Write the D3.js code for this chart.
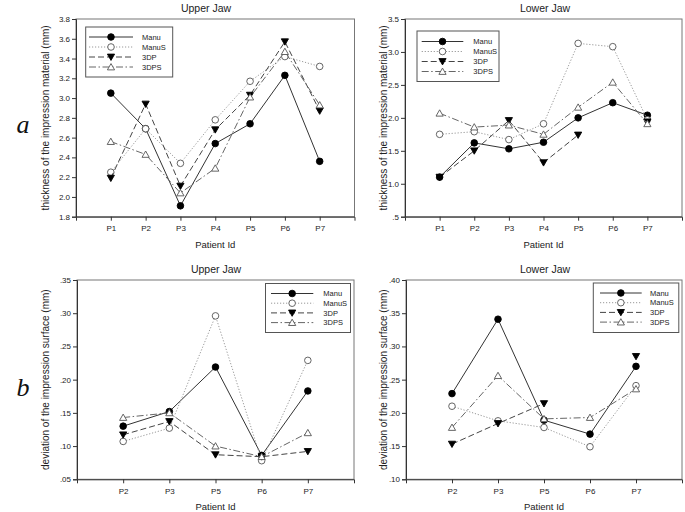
<!DOCTYPE html>
<html><head><meta charset="utf-8">
<script src="https://cdn.jsdelivr.net/npm/d3@7"></script>
<style>
html,body{margin:0;padding:0;background:#fff;}
svg{display:block;font-family:"Liberation Sans",Arial,sans-serif;}
</style></head>
<body><svg id="c" width="685" height="512"></svg>
<script>
// ---- data ----
const seriesNames = ["Manu", "ManuS", "3DP", "3DPS"];
const thickPatients = ["P1","P2","P3","P4","P5","P6","P7"];
const devPatients = ["P2","P3","P5","P6","P7"];

const upperThickManu  = [3.05, 2.69, 1.91, 2.54, 2.74, 3.23, 2.36];
const upperThickManuS = [2.25, 2.69, 2.34, 2.78, 3.17, 3.42, 3.32];
const upperThick3DP   = [2.19, 2.94, 2.11, 2.68, 3.03, 3.57, 2.87];
const upperThick3DPS  = [2.56, 2.43, 2.04, 2.29, 3.01, 3.47, 2.93];

const lowerThickManu  = [1.10, 1.62, 1.53, 1.63, 2.00, 2.23, 2.04];
const lowerThickManuS = [1.75, 1.79, 1.67, 1.91, 3.13, 3.08, 1.97];
const lowerThick3DP   = [1.10, 1.50, 1.96, 1.32, 1.74, null, 1.94];
const lowerThick3DPS  = [2.07, 1.86, 1.89, 1.75, 2.16, 2.54, 1.91];

const upperDevManu  = [0.130, 0.152, 0.219, 0.086, 0.183];
const upperDevManuS = [0.107, 0.127, 0.296, 0.078, 0.229];
const upperDev3DP   = [0.117, 0.137, 0.087, 0.084, 0.092];
const upperDev3DPS  = [0.143, 0.150, 0.100, 0.084, 0.120];

const lowerDevManu  = [0.229, 0.341, 0.189, 0.168, 0.270];
const lowerDevManuS = [0.210, 0.188, 0.178, 0.149, 0.241];
const lowerDev3DP   = [0.153, 0.184, 0.214, null, 0.285];
const lowerDev3DPS  = [0.178, 0.256, 0.191, 0.193, 0.236];

const upperThickTicks = [1.8,2.0,2.2,2.4,2.6,2.8,3.0,3.2,3.4,3.6,3.8];
const lowerThickTicks = [0.5,1.0,1.5,2.0,2.5,3.0,3.5];
const upperDevTicks = [0.05,0.10,0.15,0.20,0.25,0.30,0.35];
const lowerDevTicks = [0.10,0.15,0.20,0.25,0.30,0.35,0.40];

const yTitleThick = "thickness of the impression material (mm)";
const yTitleDev = "deviation of the impression surface (mm)";
const xTitle = "Patient Id";

// ---- styles ----
const styles = {
  "Manu":  {stroke:"#333", dash:null, marker:"circle", fill:"#000", mstroke:"#000"},
  "ManuS": {stroke:"#999", dash:"1.2,1.8", marker:"circle", fill:"#fff", mstroke:"#555"},
  "3DP":   {stroke:"#444", dash:"6,3", marker:"tdown", fill:"#000", mstroke:"#000"},
  "3DPS":  {stroke:"#666", dash:"7,2.5,1.5,2.5", marker:"tup", fill:"#fff", mstroke:"#555"}
};

const svg = d3.select("#c");

function stripZero(s){ return s.replace(/^0\./, "."); }

function panel(cfg){
  const g = svg.append("g");
  const x = d3.scaleLinear().domain([0, cfg.cats.length + 1]).range([cfg.x0, cfg.x1]);
  const y = d3.scaleLinear().domain(cfg.yDomain).range([cfg.y1, cfg.y0]);

  // frame
  g.append("rect").attr("x", cfg.x0).attr("y", cfg.y0)
    .attr("width", cfg.x1 - cfg.x0).attr("height", cfg.y1 - cfg.y0)
    .attr("fill", "none").attr("stroke", "#777").attr("stroke-width", 1);

  // axes
  const ya = d3.axisLeft(y).tickValues(cfg.yTicks).tickSize(4).tickPadding(2)
    .tickFormat(d => stripZero(d3.format(cfg.yFmt)(d)));
  const yg = g.append("g").attr("transform", `translate(${cfg.x0},0)`).call(ya);
  const xa = d3.axisBottom(x).tickValues(d3.range(1, cfg.cats.length + 1)).tickSize(4).tickPadding(5)
    .tickFormat(i => cfg.cats[i - 1]);
  const xg = g.append("g").attr("transform", `translate(0,${cfg.y1})`).call(xa);
  [yg, xg].forEach(a => {
    a.select(".domain").attr("stroke", "#333");
    a.selectAll(".tick line").attr("stroke", "#333");
    a.selectAll("text").attr("font-size", 8).attr("fill", "#222")
      .attr("font-family", '"Liberation Sans",Arial,sans-serif');
  });

  // titles
  g.append("text").attr("x", cfg.titleX).attr("y", cfg.y0 - 7).attr("text-anchor", "middle")
    .attr("font-size", 10.5).attr("fill", "#222").text(cfg.title);
  g.append("text").attr("x", (cfg.x0 + cfg.x1) / 2).attr("y", cfg.y1 + 31).attr("text-anchor", "middle")
    .attr("font-size", 9.5).attr("fill", "#222").text(xTitle);
  g.append("text").attr("transform", `translate(${cfg.yLabX},${(cfg.y0 + cfg.y1) / 2}) rotate(-90)`)
    .attr("text-anchor", "middle").attr("font-size", 10).attr("fill", "#222").text(cfg.yTitle);

  // series
  seriesNames.forEach((name, k) => {
    const vals = cfg.series[k];
    const st = styles[name];
    const line = d3.line().defined(d => d != null).x((d, i) => x(i + 1)).y(d => y(d));
    g.append("path").attr("d", line(vals)).attr("fill", "none")
      .attr("stroke", st.stroke).attr("stroke-width", 1)
      .attr("stroke-dasharray", st.dash);
    vals.forEach((v, i) => {
      if (v == null) return;
      drawMarker(g, st, x(i + 1), y(v));
    });
  });

  // legend
  const L = cfg.legend;
  g.append("rect").attr("x", L.x).attr("y", L.y).attr("width", L.w).attr("height", L.h)
    .attr("fill", "#fff").attr("stroke", "#555").attr("stroke-width", 1);
  seriesNames.forEach((name, k) => {
    const st = styles[name];
    const yy = L.y + L.r0 + k * L.dy;
    g.append("line").attr("x1", L.lx0).attr("x2", L.lx1).attr("y1", yy).attr("y2", yy)
      .attr("stroke", st.stroke).attr("stroke-width", 1).attr("stroke-dasharray", st.dash);
    drawMarker(g, st, (L.lx0 + L.lx1) / 2, yy);
    g.append("text").attr("x", L.tx).attr("y", yy + 2.7).attr("font-size", 7.5)
      .attr("fill", "#222").text(name);
  });
}

function drawMarker(g, st, cx, cy){
  if (st.marker === "circle") {
    g.append("circle").attr("cx", cx).attr("cy", cy).attr("r", 3.3)
      .attr("fill", st.fill).attr("stroke", st.mstroke).attr("stroke-width", 0.9);
  } else {
    const s = 3.6;
    const pts = st.marker === "tdown"
      ? [[cx - s, cy - s * 0.8], [cx + s, cy - s * 0.8], [cx, cy + s * 0.95]]
      : [[cx - s, cy + s * 0.8], [cx + s, cy + s * 0.8], [cx, cy - s * 0.95]];
    g.append("path").attr("d", "M" + pts.map(p => p.join(",")).join("L") + "Z")
      .attr("fill", st.fill).attr("stroke", st.mstroke).attr("stroke-width", 0.9);
  }
}

panel({cats: thickPatients, x0: 76, x1: 354.5, y0: 19, y1: 216.7, yDomain: [1.8, 3.8],
  yTicks: upperThickTicks, yFmt: ".1f", title: "Upper Jaw", titleX: 206, yTitle: yTitleThick, yLabX: 49,
  series: [upperThickManu, upperThickManuS, upperThick3DP, upperThick3DPS],
  legend: {x: 85.7, y: 27, w: 87, h: 50, r0: 10, dy: 10, lx0: 89, lx1: 133, tx: 142}});

panel({cats: thickPatients, x0: 405, x1: 682, y0: 19, y1: 216.7, yDomain: [0.5, 3.5],
  yTicks: lowerThickTicks, yFmt: ".1f", title: "Lower Jaw", titleX: 545, yTitle: yTitleThick, yLabX: 387,
  series: [lowerThickManu, lowerThickManuS, lowerThick3DP, lowerThick3DPS],
  legend: {x: 417, y: 31, w: 82, h: 50.5, r0: 10.5, dy: 10, lx0: 421.7, lx1: 463.3, tx: 473.3}});

panel({cats: devPatients, x0: 77, x1: 354, y0: 280, y1: 479.3, yDomain: [0.05, 0.35],
  yTicks: upperDevTicks, yFmt: ".2f", title: "Upper Jaw", titleX: 216, yTitle: yTitleDev, yLabX: 49,
  series: [upperDevManu, upperDevManuS, upperDev3DP, upperDev3DPS],
  legend: {x: 265.5, y: 283.5, w: 85, h: 49, r0: 10, dy: 9.7, lx0: 271, lx1: 313.3, tx: 323.3}});

panel({cats: devPatients, x0: 406, x1: 682, y0: 280, y1: 479.3, yDomain: [0.10, 0.40],
  yTicks: lowerDevTicks, yFmt: ".2f", title: "Lower Jaw", titleX: 545, yTitle: yTitleDev, yLabX: 387,
  series: [lowerDevManu, lowerDevManuS, lowerDev3DP, lowerDev3DPS],
  legend: {x: 593.3, y: 283, w: 85.5, h: 49.5, r0: 10, dy: 9.7, lx0: 600, lx1: 641.7, tx: 650}});

// panel letters
svg.append("text").attr("x", 23).attr("y", 133).attr("text-anchor", "middle")
  .attr("font-family", '"Liberation Serif","DejaVu Serif",serif').attr("font-style", "italic")
  .attr("font-size", 26).attr("fill", "#111").text("a");
svg.append("text").attr("x", 23).attr("y", 396).attr("text-anchor", "middle")
  .attr("font-family", '"Liberation Serif","DejaVu Serif",serif').attr("font-style", "italic")
  .attr("font-size", 26).attr("fill", "#111").text("b");
</script></body></html>
